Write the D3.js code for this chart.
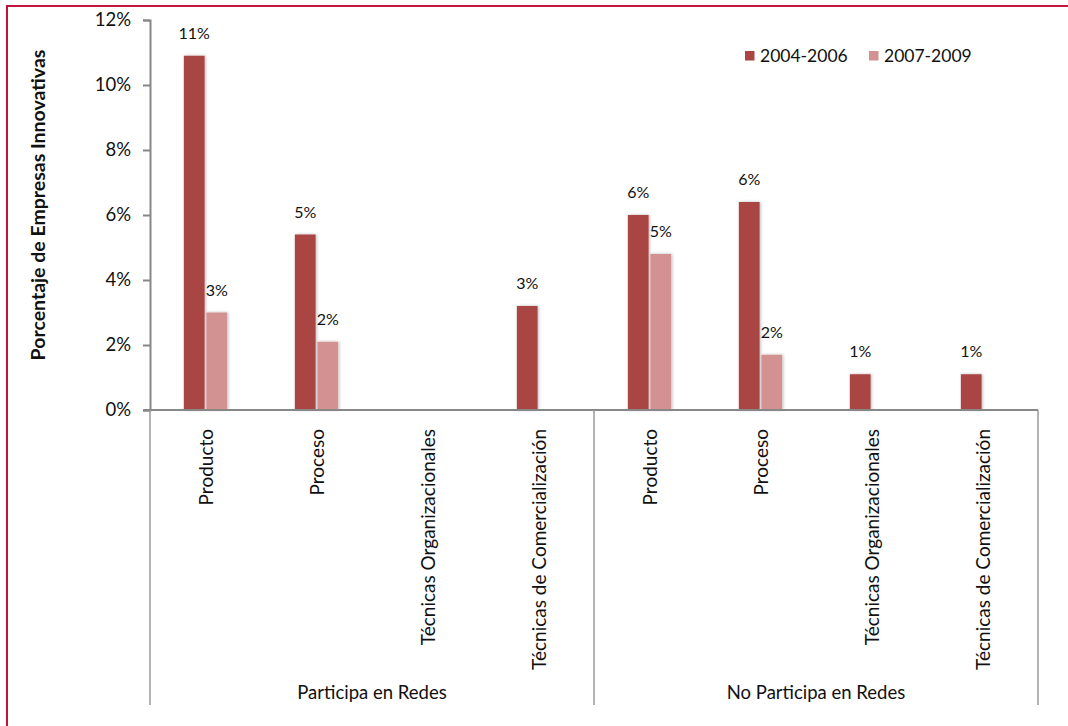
<!DOCTYPE html>
<html>
<head>
<meta charset="utf-8">
<script src="https://cdn.jsdelivr.net/npm/d3@7"></script>
<style>
  html, body { margin: 0; padding: 0; background: #fff; }
  svg { display: block; font-family: Lato, "Open Sans", sans-serif; }
</style>
</head>
<body>
<svg id="chart" width="1068" height="726"></svg>
<script>
// Innovative firms by type of innovation, grouped by network participation
const groups = ["Participa en Redes", "No Participa en Redes"];
const categories = ["Producto", "Proceso", "Técnicas Organizacionales", "Técnicas de Comercialización"];
const seriesNames = ["2004-2006", "2007-2009"];
// shares (fraction of firms), one entry per group × category
const values2004 = [0.109, 0.054, 0.000, 0.032, 0.060, 0.064, 0.011, 0.011];
const values2007 = [0.030, 0.021, 0.000, 0.000, 0.048, 0.017, 0.000, 0.000];
const yTicks = [0, 0.02, 0.04, 0.06, 0.08, 0.10, 0.12];

const colors = ["#a94543", "#d39291"];
const axisColor = "#878787";

const svg = d3.select("#chart");

// outer frame
svg.append("rect")
  .attr("x", 7).attr("y", 6)
  .attr("width", 1080).attr("height", 740)
  .attr("fill", "none")
  .attr("stroke", "#c0163e")
  .attr("stroke-width", 2);

const defs = svg.append("defs");
defs.append("filter").attr("id", "barShadow")
  .attr("x", "-30%").attr("y", "-5%").attr("width", "160%").attr("height", "110%")
  .append("feDropShadow")
  .attr("dx", 1).attr("dy", 0).attr("stdDeviation", 1.6)
  .attr("flood-color", "#000").attr("flood-opacity", 0.28);

const plot = { left: 150, right: 1038, top: 20, bottom: 410 };

// one slot per group/category pair
const rows = [];
groups.forEach((g, gi) => categories.forEach((c, ci) => {
  const i = gi * categories.length + ci;
  rows.push({ key: g + "|" + c, group: g, category: c, v: [values2004[i], values2007[i]] });
}));

const x0 = d3.scaleBand()
  .domain(rows.map(d => d.key))
  .range([plot.left, plot.right])
  .paddingInner(0.61)
  .paddingOuter(0.305);

const x1 = d3.scaleBand()
  .domain(seriesNames)
  .range([0, x0.bandwidth()])
  .paddingInner(0.08);

const y = d3.scaleLinear().domain([0, 0.12]).range([plot.bottom, plot.top]);

const pct = d3.format(".0%");

// y axis
const yAxis = svg.append("g")
  .attr("transform", `translate(${plot.left},0)`)
  .call(d3.axisLeft(y).tickValues(yTicks).tickFormat(pct).tickSize(7).tickPadding(12));
yAxis.select(".domain").attr("stroke", axisColor).attr("stroke-width", 2);
yAxis.selectAll(".tick line").attr("stroke", axisColor).attr("stroke-width", 2);
yAxis.selectAll(".tick text")
  .attr("font-family", "Lato, sans-serif")
  .attr("font-size", 18.5)
  .attr("fill", "#111");

// bars
const slot = svg.append("g").selectAll("g")
  .data(rows).join("g")
  .attr("transform", d => `translate(${x0(d.key)},0)`);

slot.selectAll("rect")
  .data(d => d.v.map((v, si) => ({ v, s: seriesNames[si], si })).filter(e => e.v > 0))
  .join("rect")
  .attr("x", e => x1(e.s))
  .attr("width", x1.bandwidth())
  .attr("y", e => y(e.v))
  .attr("height", e => y(0) - y(e.v))
  .attr("fill", e => colors[e.si])
  .attr("filter", "url(#barShadow)");

slot.selectAll("text.val")
  .data(d => d.v.map((v, si) => ({ v, s: seriesNames[si] })).filter(e => e.v > 0))
  .join("text")
  .attr("class", "val")
  .attr("x", e => x1(e.s) + x1.bandwidth() / 2)
  .attr("y", e => y(e.v) - 17)
  .attr("text-anchor", "middle")
  .attr("font-size", 16)
  .attr("fill", "#111")
  .text(e => pct(e.v));

// x baseline
svg.append("line")
  .attr("x1", plot.left - 7).attr("x2", plot.right)
  .attr("y1", plot.bottom).attr("y2", plot.bottom)
  .attr("stroke", axisColor).attr("stroke-width", 2);

// category labels, rotated
svg.append("g").selectAll("text")
  .data(rows).join("text")
  .attr("transform", d => `translate(${x0(d.key) + x0.bandwidth() / 2 + 1},${plot.bottom + 19}) rotate(-90)`)
  .attr("text-anchor", "end")
  .attr("dy", "0.35em")
  .attr("font-size", 19)
  .attr("fill", "#111")
  .text(d => d.category);

// group separators
const groupEdges = [plot.left, plot.left + (plot.right - plot.left) / 2, plot.right];
svg.append("g").selectAll("line")
  .data(groupEdges).join("line")
  .attr("x1", d => d).attr("x2", d => d)
  .attr("y1", plot.bottom).attr("y2", 705)
  .attr("stroke", "#9a9a9a").attr("stroke-width", 1.5);

// group labels
svg.append("g").selectAll("text")
  .data(groups).join("text")
  .attr("x", (d, i) => (groupEdges[i] + groupEdges[i + 1]) / 2)
  .attr("y", 699)
  .attr("text-anchor", "middle")
  .attr("font-size", 18.5)
  .attr("fill", "#111")
  .text(d => d);

// y axis title
svg.append("text")
  .attr("transform", "translate(38,205) rotate(-90)")
  .attr("text-anchor", "middle")
  .attr("dy", "0.35em")
  .attr("font-size", 19.5)
  .attr("font-weight", "bold")
  .attr("fill", "#111")
  .text("Porcentaje de Empresas Innovativas");

// legend
const legendX = [745, 869];
const legend = svg.append("g").selectAll("g")
  .data(seriesNames).join("g")
  .attr("transform", (d, i) => `translate(${legendX[i]},51)`);
legend.append("rect")
  .attr("width", 9.5).attr("height", 9.5)
  .attr("fill", (d, i) => colors[i]);
legend.append("text")
  .attr("x", 15).attr("y", 5)
  .attr("dy", "0.35em")
  .attr("font-size", 17.5)
  .attr("fill", "#111")
  .text(d => d);
</script>
</body>
</html>
